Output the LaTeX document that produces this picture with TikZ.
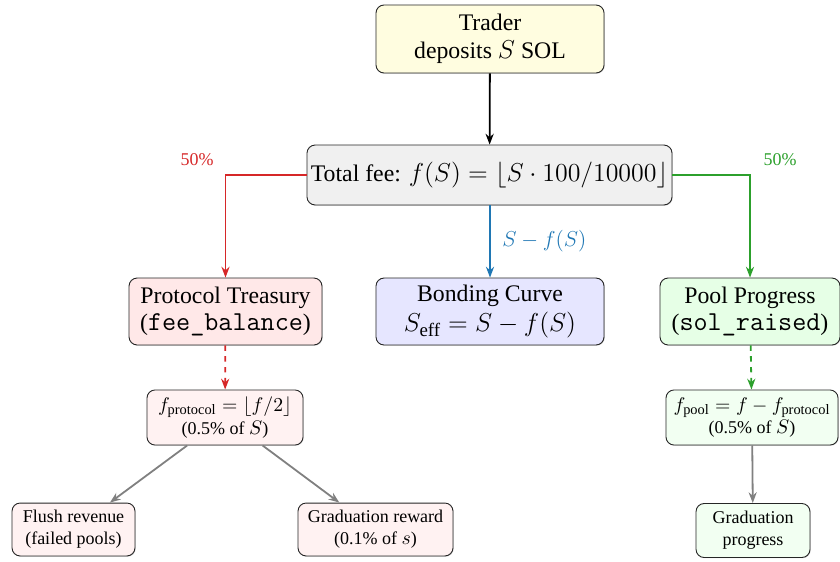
\documentclass[tikz,border=0pt]{standalone}
\usepackage{amsmath}
\usepackage{fontspec}
\setmainfont{Liberation Serif}
\DeclareMathSizes{13.2}{14.4}{10.5}{7.5}
\DeclareMathSizes{10}{11.4}{8}{6}
\DeclareMathSizes{9.99}{12}{8.5}{6}
\usetikzlibrary{arrows.meta,shadows}
\newcommand\code[1]{{\fontsize{15.2}{15.5}\selectfont\texttt{#1}}}
\definecolor{cred}{RGB}{214,39,40}
\definecolor{cgreen}{RGB}{44,160,44}
\definecolor{cblue}{RGB}{31,119,180}
\definecolor{fyellow}{RGB}{255,253,224}
\definecolor{fgray}{RGB}{240,240,240}
\definecolor{fpink}{RGB}{255,232,232}
\definecolor{flav}{RGB}{230,230,255}
\definecolor{fgreen}{RGB}{230,255,230}
\definecolor{fpinkl}{RGB}{255,242,242}
\definecolor{fgreenl}{RGB}{242,255,242}
\tikzset{
  box/.style={draw=black!85, rounded corners=4.5pt, line width=0.5pt, align=center,
    inner sep=2pt, font=\fontsize{13.2}{15.5}\selectfont,
    drop shadow={shadow xshift=0.4pt, shadow yshift=-0.4pt, opacity=0.35}},
  smallbox/.style={box, font=\fontsize{10}{12.2}\selectfont},
  arr/.style={-{Stealth[length=6pt,width=4.5pt]}, line width=1pt},
  lab/.style={font=\fontsize{9.99}{12}\selectfont}
}
\begin{document}
\begin{tikzpicture}[x=0.5556pt,y=-0.5556pt]
\useasboundingbox (0,0) rectangle (840,561);
\node[box, fill=fyellow, minimum width=126.7pt, minimum height=37.8pt] (trader) at (490,39) {Trader\\deposits $S$ SOL};
\node[box, fill=fgray, minimum width=202.8pt, minimum height=33.3pt] (fee) at (489.5,175) {Total fee: $f(S)=\lfloor S\cdot 100/10000\rfloor$};
\node[box, fill=fpink, minimum width=107.2pt, minimum height=37.2pt] (treas) at (225.5,311.5) {Protocol Treasury\\(\code{fee\_balance})};
\node[box, fill=flav, minimum width=126.7pt, minimum height=37.2pt] (bond) at (490,311.5) {Bonding Curve\\[1.5pt]$S_{\text{eff}}=S-f(S)$};
\node[box, fill=fgreen, minimum width=100pt, minimum height=37.2pt] (pool) at (750,311.5) {Pool Progress\\(\code{sol\_raised})};
\node[smallbox, fill=fpinkl, minimum width=86.7pt, minimum height=30.6pt, font=\fontsize{10}{12.6}\selectfont] (fprot) at (225,417.5) {$f_{\text{protocol}}=\lfloor f/2\rfloor$\\(0.5\% of $S$)};
\node[smallbox, fill=fgreenl, minimum width=95.6pt, minimum height=30.6pt, font=\fontsize{10}{12.6}\selectfont] (fpool) at (752,417.5) {$f_{\text{pool}}=f-f_{\text{protocol}}$\\(0.5\% of $S$)};
\node[smallbox, fill=fpinkl, minimum width=68.3pt, minimum height=29.4pt] (flush) at (73.5,529.5) {Flush revenue\\(failed pools)};
\node[smallbox, fill=fpinkl, minimum width=86.1pt, minimum height=29.4pt] (grew) at (375.5,529.5) {Graduation reward\\(0.1\% of $s$)};
\node[smallbox, fill=fgreenl, minimum width=63.3pt, minimum height=30pt] (gprog) at (753,530.5) {Graduation\\progress};
\draw[arr] (trader) -- (fee);
\draw[arr, cred] (fee.west) -| (treas.north);
\draw[arr, cgreen] (fee.east) -| (pool.north);
\draw[arr, cblue] (fee.south -| bond.north) -- (bond.north) node[midway, right, lab, xshift=3pt] {$S-f(S)$};
\node[lab, text=cred] (l1) at (197,160) {50\%};
\node[lab, text=cgreen] (l2) at (780,160) {50\%};
\draw[arr, cred, dashed] (treas) -- (fprot);
\draw[arr, cgreen, dashed] (pool) -- (fpool);
\draw[arr, gray] (fprot) -- (flush);
\draw[arr, gray] (fprot) -- (grew);
\draw[arr, gray] (fpool) -- (gprog);
\end{tikzpicture}
\end{document}
